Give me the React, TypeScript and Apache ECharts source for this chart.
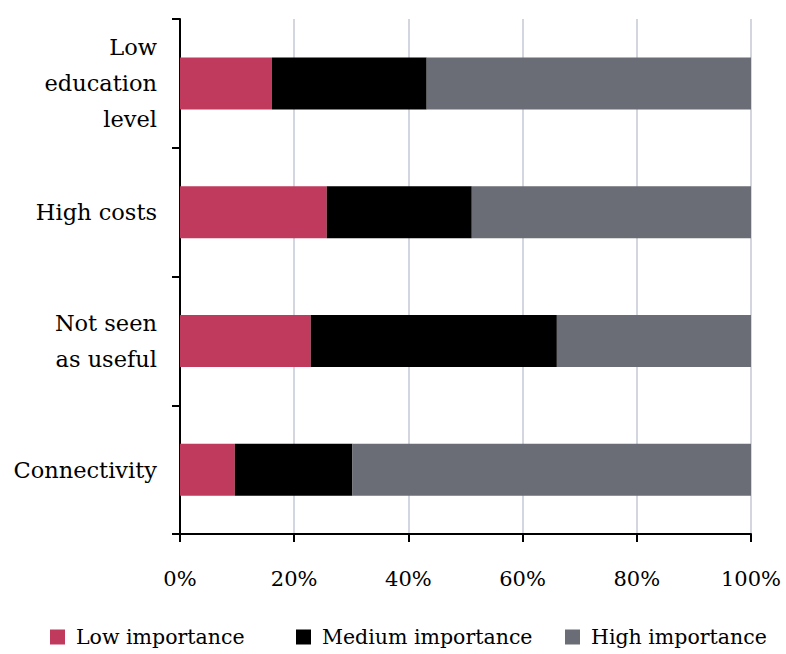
import React, { useEffect, useRef } from "react";
import * as echarts from "echarts";

const categories = ["Low\neducation\nlevel", "High costs", "Not seen\nas useful", "Connectivity"];
const seriesNames = ["Low importance", "Medium importance", "High importance"];
const lowValues = [16.1, 25.7, 22.9, 9.6];
const mediumValues = [27.1, 25.4, 43.1, 20.6];
const highValues = [56.8, 48.9, 34.0, 69.8];
const colors = ["#c03a5e", "#000000", "#6a6d75"];

const FONT = "DejaVu Serif";
const legendLefts = [50, 296, 565];

export default function App() {
  const ref = useRef<HTMLDivElement>(null);
  useEffect(() => {
    if (!ref.current) return;
    const chart = echarts.init(ref.current, undefined, { renderer: "svg" });
    const data = [lowValues, mediumValues, highValues];
    chart.setOption({
      animation: false,
      textStyle: { fontFamily: FONT },
      grid: { left: 180, right: 35, top: 19, bottom: 120 },
      legend: seriesNames.map((name, i) => ({
        left: legendLefts[i],
        top: 626,
        padding: 0,
        itemWidth: 15,
        itemHeight: 15,
        icon: "rect",
        data: [name],
        textStyle: { fontFamily: FONT, fontSize: 20.5, lineHeight: 22, color: "#000", padding: [0, 0, 0, 6] },
      })),
      xAxis: {
        type: "value",
        min: 0,
        max: 100,
        interval: 20,
        axisLine: { show: true, lineStyle: { color: "#000", width: 2 } },
        axisTick: { show: true, length: 8, lineStyle: { color: "#000", width: 2 } },
        axisLabel: { formatter: "{value}%", fontFamily: FONT, fontSize: 21, color: "#000", margin: 34 },
        splitLine: { show: true, lineStyle: { color: "#d3d6de", width: 2 } },
      },
      yAxis: {
        type: "category",
        inverse: true,
        data: categories,
        axisLine: { show: true, lineStyle: { color: "#000", width: 2 } },
        axisTick: { show: true, length: 8, lineStyle: { color: "#000", width: 2 } },
        axisLabel: { fontFamily: FONT, fontSize: 22.5, color: "#000", margin: 23, lineHeight: 36, align: "right" },
      },
      series: seriesNames.map((name, i) => ({
        name,
        type: "bar",
        stack: "total",
        barWidth: 52,
        itemStyle: { color: colors[i] },
        data: data[i],
      })),
    });
    return () => chart.dispose();
  }, []);
  return <div ref={ref} style={{ width: 786, height: 654, position: "absolute", left: 0, top: 0 }} />;
}
